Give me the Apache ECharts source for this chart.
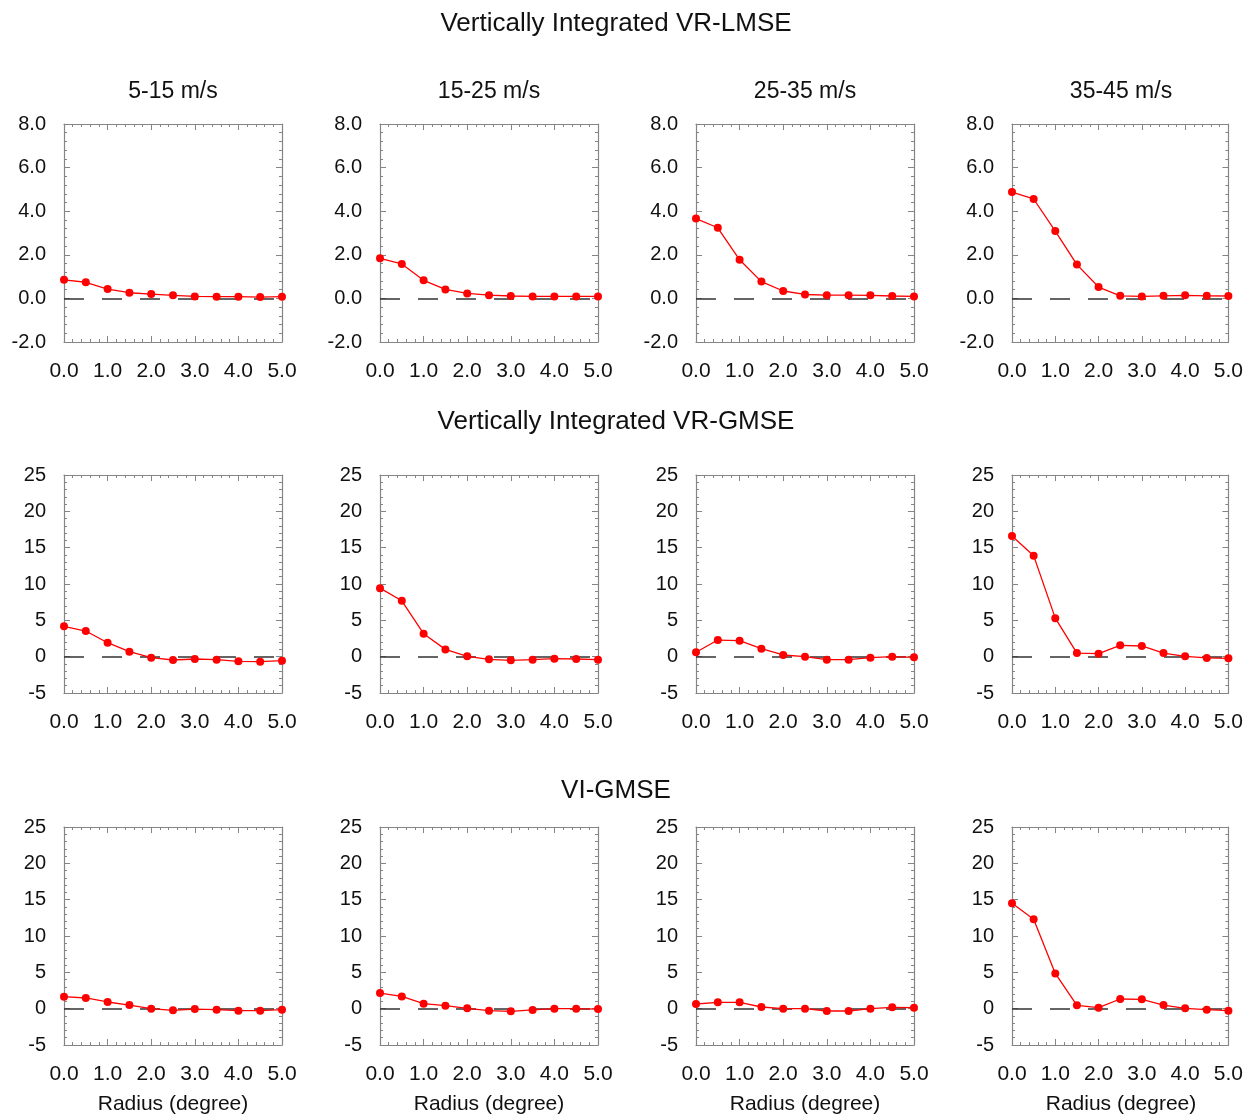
<!DOCTYPE html>
<html>
<head>
<meta charset="utf-8">
<script src="https://cdn.jsdelivr.net/npm/echarts@6/dist/echarts.min.js"></script>
<style>
  html, body { margin: 0; padding: 0; background: #fff; }
  #chart { width: 1246px; height: 1115px; }
</style>
</head>
<body>
<div id="chart"></div>
<script>
// radius (degree)
var radius = [0.0, 0.5, 1.0, 1.5, 2.0, 2.5, 3.0, 3.5, 4.0, 4.5, 5.0];
var speedBins = ['5-15 m/s', '15-25 m/s', '25-35 m/s', '35-45 m/s'];
var rowTitles = ['Vertically Integrated VR-LMSE', 'Vertically Integrated VR-GMSE', 'VI-GMSE'];

// Vertically Integrated VR-LMSE
var lmse_5_15  = [0.85, 0.74, 0.43, 0.26, 0.20, 0.14, 0.09, 0.08, 0.08, 0.06, 0.08];
var lmse_15_25 = [1.84, 1.58, 0.83, 0.41, 0.23, 0.15, 0.11, 0.09, 0.09, 0.09, 0.09];
var lmse_25_35 = [3.66, 3.24, 1.77, 0.77, 0.34, 0.18, 0.15, 0.15, 0.14, 0.11, 0.09];
var lmse_35_45 = [4.88, 4.56, 3.09, 1.55, 0.52, 0.12, 0.09, 0.12, 0.14, 0.12, 0.11];

// Vertically Integrated VR-GMSE
var gmse_5_15  = [4.17, 3.53, 1.92, 0.69, -0.14, -0.46, -0.32, -0.41, -0.64, -0.69, -0.55];
var gmse_15_25 = [9.43, 7.69, 3.16, 1.00, 0.05, -0.37, -0.50, -0.41, -0.27, -0.32, -0.41];
var gmse_25_35 = [0.60, 2.29, 2.20, 1.10, 0.23, 0.00, -0.41, -0.41, -0.14, 0.00, -0.09];
var gmse_35_45 = [16.6, 13.9, 5.30, 0.50, 0.41, 1.56, 1.47, 0.50, 0.05, -0.18, -0.23];

// VI-GMSE
var vi_5_15  = [1.65, 1.47, 0.92, 0.50, 0.00, -0.23, -0.05, -0.14, -0.27, -0.27, -0.14];
var vi_15_25 = [2.15, 1.69, 0.69, 0.41, 0.05, -0.27, -0.37, -0.18, 0.00, 0.00, -0.05];
var vi_25_35 = [0.64, 0.87, 0.87, 0.23, 0.00, 0.00, -0.32, -0.32, 0.00, 0.18, 0.14];
var vi_35_45 = [14.5, 12.3, 4.85, 0.46, 0.14, 1.33, 1.28, 0.50, 0.05, -0.14, -0.27];

var rows = [
    [lmse_5_15, lmse_15_25, lmse_25_35, lmse_35_45],
    [gmse_5_15, gmse_15_25, gmse_25_35, gmse_35_45],
    [vi_5_15, vi_15_25, vi_25_35, vi_35_45]
];
var yRanges = [
    {min: -2, max: 8, interval: 2, digits: 1},
    {min: -5, max: 25, interval: 5, digits: 0},
    {min: -5, max: 25, interval: 5, digits: 0}
];

var colLeft = [64, 380, 696, 1012];
var rowTop = [124, 475, 827];
var rowTitleTop = [11, 409, 778];
var boxW = 218, boxH = 218;
var frameColor = '#858585';
var font = 'Liberation Sans, Arial, Helvetica, sans-serif';

var grids = [], xAxes = [], yAxes = [], series = [], titles = [];

function addText(text, x, y, size) {
    titles.push({text: text, left: x, top: y, textAlign: 'center', padding: 0,
        textStyle: {fontFamily: font, fontSize: size, fontWeight: 'normal', color: '#111'}});
}

rowTitles.forEach(function (t, r) { addText(t, 616, rowTitleTop[r], 26); });

speedBins.forEach(function (name, c) {
    addText(name, colLeft[c] + boxW / 2, 80, 23);
    addText('Radius (degree)', colLeft[c] + boxW / 2, 1094, 21);
});

rows.forEach(function (rowData, r) {
    var yr = yRanges[r];
    rowData.forEach(function (vals, c) {
        var g = grids.length;
        grids.push({left: colLeft[c], top: rowTop[r], width: boxW, height: boxH, containLabel: false});

        var xBase = {
            type: 'value', gridIndex: g, min: 0, max: 5, interval: 1,
            axisLine: {show: true, onZero: false, lineStyle: {color: frameColor, width: 1.2}},
            axisTick: {show: true, inside: true, length: 6, lineStyle: {color: frameColor}},
            minorTick: {show: true, splitNumber: 5, length: 3, lineStyle: {color: frameColor}},
            splitLine: {show: false}
        };
        xAxes.push(Object.assign({}, xBase, {
            position: 'bottom',
            axisLabel: {show: true, margin: 19, fontFamily: font, fontSize: 21, color: '#111',
                formatter: function (v) { return v.toFixed(1); }}
        }));
        xAxes.push(Object.assign({}, xBase, {position: 'top', axisLabel: {show: false}}));

        var yBase = {
            type: 'value', gridIndex: g, min: yr.min, max: yr.max, interval: yr.interval,
            axisLine: {show: true, onZero: false, lineStyle: {color: frameColor, width: 1.2}},
            axisTick: {show: true, inside: true, length: 6, lineStyle: {color: frameColor}},
            minorTick: {show: true, splitNumber: 5, length: 3, lineStyle: {color: frameColor}},
            splitLine: {show: false}
        };
        yAxes.push(Object.assign({}, yBase, {
            position: 'left',
            axisLabel: {show: true, margin: 18, fontFamily: font, fontSize: 20, color: '#111',
                formatter: function (v) { return v.toFixed(yr.digits); }}
        }));
        yAxes.push(Object.assign({}, yBase, {position: 'right', axisLabel: {show: false}}));

        var pts = radius.map(function (x, i) { return [x, vals[i]]; });
        series.push({
            type: 'line',
            xAxisIndex: g * 2,
            yAxisIndex: g * 2,
            data: pts,
            symbol: 'circle',
            symbolSize: 8,
            itemStyle: {color: '#ff0000'},
            lineStyle: {color: '#ff0000', width: 1.3},
            silent: true,
            z: 3,
            markLine: {
                silent: true,
                symbol: 'none',
                label: {show: false},
                lineStyle: {color: '#333', width: 1.6, type: [20, 18]},
                data: [{yAxis: 0}],
                z: 2
            }
        });
    });
});

var chart = echarts.init(document.getElementById('chart'));
chart.setOption({
    animation: false,
    backgroundColor: '#fff',
    title: titles,
    grid: grids,
    xAxis: xAxes,
    yAxis: yAxes,
    series: series
});
</script>
</body>
</html>
